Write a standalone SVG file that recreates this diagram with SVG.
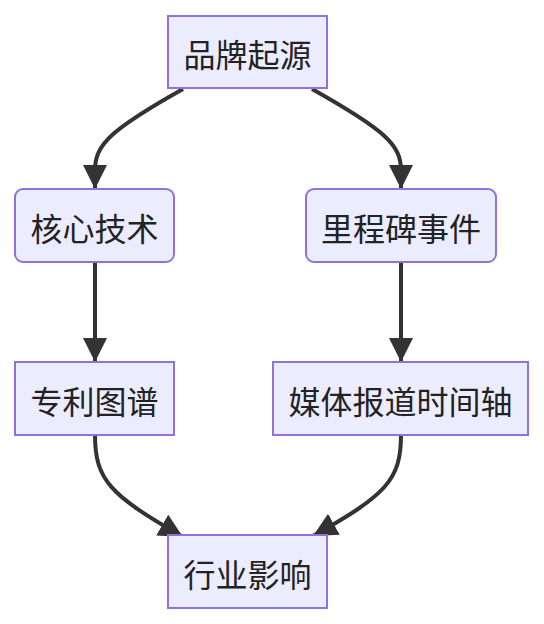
<svg xmlns="http://www.w3.org/2000/svg" width="544" height="624" viewBox="0 0 544 624">
<style>
.node rect{fill:#ECECFF;stroke:#9370DB;stroke-width:2}
.node text{font-family:"Noto Sans CJK SC","Noto Sans",sans-serif;font-size:32px;fill:#222;text-anchor:middle;dominant-baseline:central}
.edge{fill:none;stroke:#333;stroke-width:4;marker-end:url(#arrow)}
</style>
<defs>
<marker id="arrow" viewBox="0 0 10 10" refX="10" refY="5" markerUnits="userSpaceOnUse" markerWidth="24" markerHeight="24" orient="auto">
<path d="M0,0 L10,5 L0,10 z" fill="#333"/>
</marker>
</defs>
<g id="edges">
<path class="edge" d="M183,89 C110,130 95,145 95,170 L95,189"/>
<path class="edge" d="M312,89 C385,130 401,145 401,170 L401,189"/>
<path class="edge" d="M95,262 L95,362"/>
<path class="edge" d="M401,262 L401,362"/>
<path class="edge" d="M95,435 C95,480 110,495 183,537"/>
<path class="edge" d="M401,435 C401,480 386,495 313,536"/>
</g>
<g id="n1" class="node"><rect x="168" y="16" width="159" height="72"/><text x="247.5" y="53">品牌起源</text></g>
<g id="n2" class="node"><rect x="15" y="189" width="159" height="73" rx="8"/><text x="94.5" y="226.5">核心技术</text></g>
<g id="n3" class="node"><rect x="306" y="189" width="190" height="73" rx="8"/><text x="401" y="226.5">里程碑事件</text></g>
<g id="n4" class="node"><rect x="15" y="362" width="159" height="73"/><text x="94.5" y="399.5">专利图谱</text></g>
<g id="n5" class="node"><rect x="273" y="362" width="255" height="73"/><text x="400.5" y="399.5">媒体报道时间轴</text></g>
<g id="n6" class="node"><rect x="168" y="535" width="159" height="73"/><text x="247.5" y="572.5">行业影响</text></g>
</svg>
